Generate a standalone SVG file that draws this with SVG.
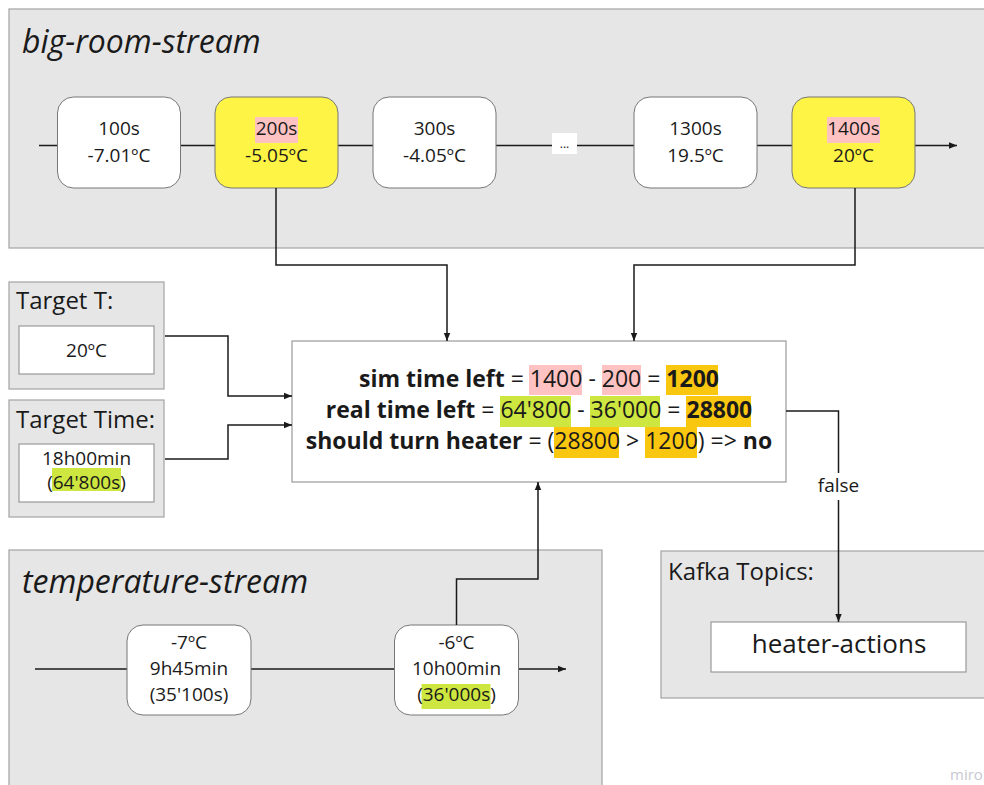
<svg xmlns="http://www.w3.org/2000/svg" width="984" height="785" viewBox="0 0 984 785">
  <style>
    text { font-family: "Open Sans", "Noto Sans", "DejaVu Sans", sans-serif; fill: #1a1a1a; }
    .panel { fill: #e6e6e6; stroke: #a3a3a3; stroke-width: 1.2; }
    .box { fill: #ffffff; stroke: #9a9a9a; stroke-width: 1.2; }
    .event { fill: #ffffff; stroke: #777777; stroke-width: 1; }
    .event.hot { fill: #fef445; }
    .title { font-size: 32px; font-style: italic; }
    .label { font-size: 24px; }
    .val { font-size: 19px; text-anchor: middle; }
    .calc { font-size: 23px; text-anchor: middle; }
    .calc .b { font-weight: 700; }
    .pink { fill: #ffc2c2; }
    .green { fill: #cde640; }
    .orange { fill: #fac710; }
    .wire { fill: none; stroke: #1a1a1a; stroke-width: 1.5; }
  </style>
  <defs>
    <marker id="arrow" viewBox="0 0 10 10" refX="10" refY="5" markerWidth="8" markerHeight="8" markerUnits="userSpaceOnUse" orient="auto">
      <path d="M0,1 L10,5 L0,9 Z" fill="#1a1a1a"/>
    </marker>
  </defs>

  <rect width="984" height="785" fill="#ffffff"/>

  <!-- stream panels -->
  <g id="big-room-stream">
    <rect class="panel" x="9" y="9" width="990" height="239"/>
    <text class="title" x="22" y="53">big-room-stream</text>
  </g>
  <g id="temperature-stream">
    <rect class="panel" x="9" y="550" width="593" height="250"/>
    <text class="title" x="22" y="593">temperature-stream</text>
  </g>

  <!-- timelines -->
  <g id="timelines">
    <line class="wire" x1="39" y1="145.5" x2="957" y2="145.5" marker-end="url(#arrow)"/>
    <line class="wire" x1="35" y1="669" x2="566" y2="669" marker-end="url(#arrow)"/>
  </g>

  <!-- big-room-stream events -->
  <g id="ev-100">
    <rect class="event" x="57.5" y="97" width="123" height="91" rx="16"/>
    <text class="val" x="119" y="135">100s</text>
    <text class="val" x="119" y="162">-7.01ºC</text>
  </g>
  <g id="ev-200">
    <rect class="event hot" x="215" y="97" width="123" height="91" rx="16"/>
    <rect class="pink" x="255" y="117" width="43" height="26"/>
    <text class="val" x="276.5" y="135">200s</text>
    <text class="val" x="276.5" y="162">-5.05ºC</text>
  </g>
  <g id="ev-300">
    <rect class="event" x="373" y="97" width="123" height="91" rx="16"/>
    <text class="val" x="434.5" y="135">300s</text>
    <text class="val" x="434.5" y="162">-4.05ºC</text>
  </g>
  <g id="ev-gap">
    <rect x="552" y="133" width="25" height="21" fill="#ffffff"/>
    <text x="564.5" y="148" font-size="12" text-anchor="middle">...</text>
  </g>
  <g id="ev-1300">
    <rect class="event" x="634" y="97" width="123" height="91" rx="16"/>
    <text class="val" x="695.5" y="135">1300s</text>
    <text class="val" x="695.5" y="162">19.5ºC</text>
  </g>
  <g id="ev-1400">
    <rect class="event hot" x="792" y="97" width="123" height="91" rx="16"/>
    <rect class="pink" x="827" y="117" width="53" height="26"/>
    <text class="val" x="853.5" y="135">1400s</text>
    <text class="val" x="853.5" y="162">20ºC</text>
  </g>

  <!-- temperature-stream events -->
  <g id="temp-0945">
    <rect class="event" x="127" y="625" width="124" height="90" rx="16"/>
    <text class="val" x="189" y="649">-7ºC</text>
    <text class="val" x="189" y="675">9h45min</text>
    <text class="val" x="189" y="701">(35'100s)</text>
  </g>
  <g id="temp-1000">
    <rect class="event" x="394.5" y="625" width="124" height="90" rx="16"/>
    <rect class="green" x="421.5" y="684" width="69" height="25"/>
    <text class="val" x="456.5" y="649">-6ºC</text>
    <text class="val" x="456.5" y="675">10h00min</text>
    <text class="val" x="456.5" y="701">(36'000s)</text>
  </g>

  <!-- targets -->
  <g id="target-t">
    <rect class="panel" x="9" y="282" width="155" height="107"/>
    <text class="label" x="16" y="309">Target T:</text>
    <rect class="box" x="19" y="326" width="135" height="48"/>
    <text class="val" x="86.5" y="357">20ºC</text>
  </g>
  <g id="target-time">
    <rect class="panel" x="9" y="400" width="155" height="117"/>
    <text class="label" x="16" y="428">Target Time:</text>
    <rect class="box" x="19" y="444" width="135" height="58"/>
    <rect class="green" x="52" y="468" width="69" height="23"/>
    <text class="val" x="86.5" y="465">18h00min</text>
    <text class="val" x="86.5" y="489">(64'800s)</text>
  </g>

  <!-- decision -->
  <g id="decision">
    <rect class="box" x="292" y="341" width="494" height="141"/>
    <rect class="pink" x="529" y="365" width="53" height="30"/>
    <rect class="pink" x="602" y="365" width="39" height="30"/>
    <rect class="orange" x="666" y="365" width="52" height="30"/>
    <rect class="green" x="500" y="396" width="71" height="31"/>
    <rect class="green" x="590" y="396" width="70" height="31"/>
    <rect class="orange" x="686" y="396" width="65" height="31"/>
    <rect class="orange" x="554" y="427" width="65" height="31"/>
    <rect class="orange" x="645" y="427" width="52" height="31"/>
    <text class="calc" x="539" y="387"><tspan class="b">sim time left</tspan> = 1400 - 200 = <tspan class="b">1200</tspan></text>
    <text class="calc" x="539" y="418"><tspan class="b">real time left</tspan> = 64'800 - 36'000 = <tspan class="b">28800</tspan></text>
    <text class="calc" x="539" y="449"><tspan class="b">should turn heater</tspan> = (28800 &gt; 1200) =&gt; <tspan class="b">no</tspan></text>
  </g>

  <!-- output topics -->
  <g id="kafka-topics">
    <rect class="panel" x="661" y="551" width="340" height="147"/>
    <text class="label" x="668" y="580">Kafka Topics:</text>
    <rect class="box" x="711" y="622" width="255" height="50"/>
    <text x="839" y="653" font-size="26" text-anchor="middle">heater-actions</text>
  </g>

  <!-- connectors -->
  <g id="connectors">
    <polyline class="wire" points="276,188 276,265 447,265 447,341" marker-end="url(#arrow)"/>
    <polyline class="wire" points="855,188 855,265 634,265 634,341" marker-end="url(#arrow)"/>
    <polyline class="wire" points="165,336 228,336 228,396 292,396" marker-end="url(#arrow)"/>
    <polyline class="wire" points="165,459 228,459 228,425 292,425" marker-end="url(#arrow)"/>
    <polyline class="wire" points="456.5,625 456.5,579 538,579 538,482" marker-end="url(#arrow)"/>
    <polyline class="wire" points="786,411 838.5,411 838.5,622" marker-end="url(#arrow)"/>
    <rect x="814" y="473" width="49" height="27" fill="#ffffff"/>
    <text x="838.5" y="492" font-size="19" text-anchor="middle">false</text>
  </g>

  <text x="950" y="780" font-size="15" style="fill:#c8c8d2">miro</text>
</svg>
